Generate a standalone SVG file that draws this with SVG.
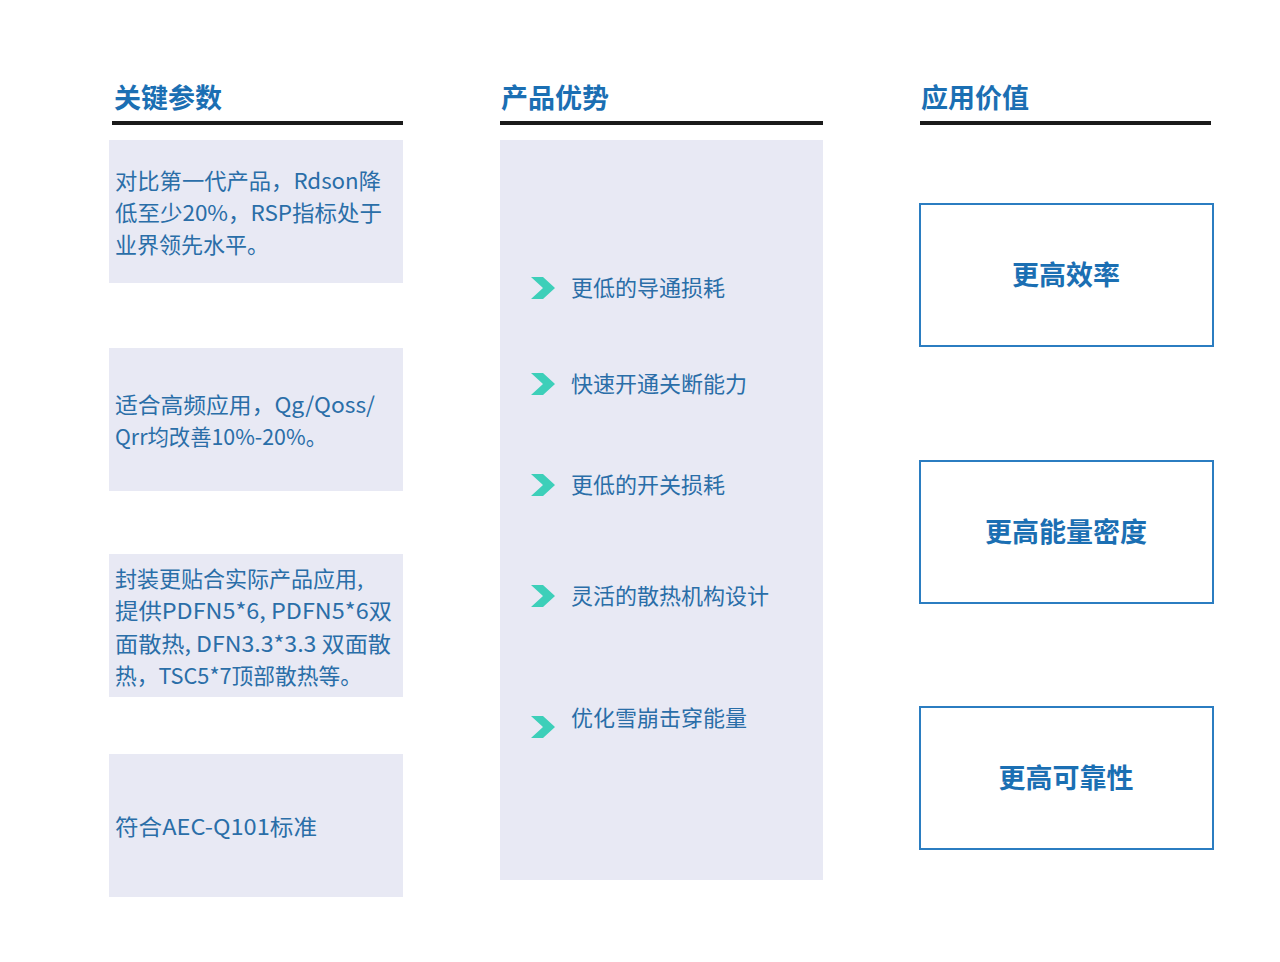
<svg xmlns="http://www.w3.org/2000/svg" width="1280" height="962" viewBox="0 0 1280 962">
<style>
.hdr{font-family:"Noto Sans CJK SC","Noto Sans",sans-serif;font-size:27px;font-weight:bold;fill:#1b6fb3}
.rule{fill:#1a1a1a}
.panel{fill:#e8e9f4}
.t{font-family:"Noto Sans CJK SC","Noto Sans",sans-serif;font-size:22px;fill:#2a6ea8}
.chev{fill:#3dcfb9}
.vbox{fill:#ffffff;stroke:#2b7dc1;stroke-width:2}
.vt{font-family:"Noto Sans CJK SC","Noto Sans",sans-serif;font-size:27px;font-weight:bold;fill:#1b6fb3;text-anchor:middle}
</style>
<defs>
<polygon id="chev" class="chev" points="-12,-11 0,-11 12,0 0,11 -12,11 0,0"/>
</defs>
<rect width="1280" height="962" fill="#ffffff"/>

<g id="col-params">
<text class="hdr" x="114" y="108">关键参数</text>
<rect class="rule" x="112" y="121" width="291" height="4"/>
</g>
<g id="col-advantages">
<text class="hdr" x="501" y="108">产品优势</text>
<rect class="rule" x="500" y="121" width="323" height="4"/>
</g>
<g id="col-value">
<text class="hdr" x="921" y="108">应用价值</text>
<rect class="rule" x="920" y="121" width="291" height="4"/>
</g>

<g id="param-1">
<rect class="panel" x="109" y="140" width="294" height="143"/>
<text class="t" x="115" y="189" textLength="266" lengthAdjust="spacingAndGlyphs">对比第一代产品，Rdson降</text>
<text class="t" x="115" y="221" textLength="267" lengthAdjust="spacingAndGlyphs">低至少20%，RSP指标处于</text>
<text class="t" x="115" y="253">业界领先水平。</text>
</g>
<g id="param-2">
<rect class="panel" x="109" y="348" width="294" height="143"/>
<text class="t" x="115" y="413" textLength="260" lengthAdjust="spacingAndGlyphs">适合高频应用，Qg/Qoss/</text>
<text class="t" x="115" y="445" textLength="212" lengthAdjust="spacingAndGlyphs">Qrr均改善10%-20%。</text>
</g>
<g id="param-3">
<rect class="panel" x="109" y="554" width="294" height="143"/>
<text class="t" x="115" y="587">封装更贴合实际产品应用,</text>
<text class="t" x="115" y="619" textLength="277" lengthAdjust="spacingAndGlyphs">提供PDFN5*6, PDFN5*6双</text>
<text class="t" x="115" y="652" textLength="276" lengthAdjust="spacingAndGlyphs">面散热, DFN3.3*3.3 双面散</text>
<text class="t" x="115" y="684" textLength="247" lengthAdjust="spacingAndGlyphs">热，TSC5*7顶部散热等。</text>
</g>
<g id="param-4">
<rect class="panel" x="109" y="754" width="294" height="143"/>
<text class="t" x="115" y="835" textLength="202" lengthAdjust="spacingAndGlyphs">符合AEC-Q101标准</text>
</g>

<g id="advantages">
<rect class="panel" x="500" y="140" width="323" height="740"/>
<g id="adv-1"><use href="#chev" x="543" y="288"/><text class="t" x="571" y="296">更低的导通损耗</text></g>
<g id="adv-2"><use href="#chev" x="543" y="384"/><text class="t" x="571" y="392">快速开通关断能力</text></g>
<g id="adv-3"><use href="#chev" x="543" y="485"/><text class="t" x="571" y="493">更低的开关损耗</text></g>
<g id="adv-4"><use href="#chev" x="543" y="596"/><text class="t" x="571" y="604">灵活的散热机构设计</text></g>
<g id="adv-5"><use href="#chev" x="543" y="727"/><text class="t" x="571" y="726">优化雪崩击穿能量</text></g>
</g>

<g id="value-1">
<rect class="vbox" x="920" y="204" width="293" height="142"/>
<text class="vt" x="1066" y="285">更高效率</text>
</g>
<g id="value-2">
<rect class="vbox" x="920" y="461" width="293" height="142"/>
<text class="vt" x="1066" y="542">更高能量密度</text>
</g>
<g id="value-3">
<rect class="vbox" x="920" y="707" width="293" height="142"/>
<text class="vt" x="1066" y="788">更高可靠性</text>
</g>
<g id="connectors"/>
</svg>
